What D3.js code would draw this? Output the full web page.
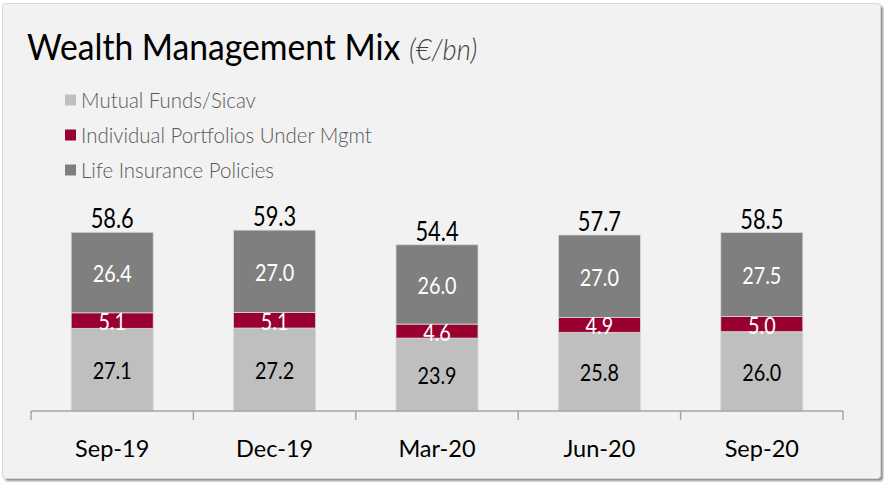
<!DOCTYPE html>
<html>
<head>
<meta charset="utf-8">
<script src="https://cdn.jsdelivr.net/npm/d3@7/dist/d3.min.js"></script>
<style>
  html, body { margin: 0; padding: 0; background: #ffffff; }
  svg { display: block; }
  text { font-family: Lato, "Open Sans", sans-serif; }
</style>
</head>
<body>
<svg id="chart" width="884" height="483"></svg>
<script>
// Quarter-end dates
const quarters = ["Sep-19", "Dec-19", "Mar-20", "Jun-20", "Sep-20"];

// Stacked components (€ bn), bottom to top
const mutualFunds = [27.1, 27.2, 23.9, 25.8, 26.0];
const individualPortfolios = [5.1, 5.1, 4.6, 4.9, 5.0];
const lifeInsurance = [26.4, 27.0, 26.0, 27.0, 27.5];

// Reported totals shown above each column
const totals = [58.6, 59.3, 54.4, 57.7, 58.5];

const seriesNames = ["Mutual Funds/Sicav", "Individual Portfolios Under Mgmt", "Life Insurance Policies"];
const seriesColors = ["#BFBFBF", "#990030", "#7F7F7F"];
const seriesLabelColors = ["#000000", "#ffffff", "#ffffff"];

const svg = d3.select("#chart");

// Panel with drop shadow
const defs = svg.append("defs");
const blur = defs.append("filter").attr("id", "shadow").attr("x", "-5%").attr("y", "-5%").attr("width", "110%").attr("height", "110%");
blur.append("feGaussianBlur").attr("stdDeviation", 1.2);

svg.append("rect")
  .attr("x", 5).attr("y", 6).attr("width", 878).attr("height", 475)
  .attr("rx", 3).attr("fill", "#8c8c8c").attr("filter", "url(#shadow)");
svg.append("rect")
  .attr("x", 2.5).attr("y", 3.5).attr("width", 878).attr("height", 475)
  .attr("rx", 3).attr("fill", "#F2F2F2").attr("stroke", "#d6d6d6").attr("stroke-width", 1);

// Text placed at (x, y) with a horizontal squeeze factor
function squeezedText(sel, x, y, k) {
  return sel.attr("transform", `translate(${x},${y}) scale(${k},1)`);
}

// Title
const title = svg.append("text").attr("fill", "#000").attr("font-size", 37);
squeezedText(title, 27, 60, 0.91);
title.append("tspan").text("Wealth Management Mix ");
title.append("tspan").attr("font-style", "italic").attr("font-weight", 300)
  .attr("font-size", 30).attr("fill", "#404040").text("(€/bn)");

// Legend
const legend = svg.append("g");
seriesNames.forEach((name, i) => {
  const cy = 100 + i * 35;
  legend.append("rect").attr("x", 65).attr("y", cy - 5.5).attr("width", 11).attr("height", 11)
    .attr("fill", seriesColors[i]);
  const t = legend.append("text").attr("font-size", 22).attr("font-weight", 300)
    .attr("fill", "#595959").text(name);
  squeezedText(t, 81, cy + 7.5, 0.93);
});

// Scales
const x = d3.scaleBand().domain(quarters).range([31, 843]).paddingInner(0.495).paddingOuter(0.2475);
const y = d3.scaleLinear().domain([0, 60]).range([411, 228]);

// Stack
const rows = quarters.map((q, i) => ({
  q,
  mf: mutualFunds[i],
  ip: individualPortfolios[i],
  li: lifeInsurance[i]
}));
const keys = ["mf", "ip", "li"];
const stacked = d3.stack().keys(keys)(rows);

const layers = svg.append("g").selectAll("g").data(stacked).join("g")
  .attr("fill", (d, i) => seriesColors[i]);

layers.selectAll("rect").data(d => d).join("rect")
  .attr("x", d => x(d.data.q))
  .attr("width", x.bandwidth())
  .attr("y", d => y(d[1]))
  .attr("height", d => y(d[0]) - y(d[1]))
  .attr("stroke", "#d8d8d8").attr("stroke-width", 0.8);

// Segment value labels
stacked.forEach((layer, li) => {
  layer.forEach(d => {
    const cx = x(d.data.q) + x.bandwidth() / 2;
    const cy = (y(d[0]) + y(d[1])) / 2;
    const t = svg.append("text").attr("text-anchor", "middle").attr("font-size", 23)
      .attr("fill", seriesLabelColors[li])
      .text(d3.format(".1f")(d.data[layer.key]));
    squeezedText(t, cx, cy + 9.5, 0.86);
  });
});

// Totals above columns
quarters.forEach((q, i) => {
  const top = y(mutualFunds[i] + individualPortfolios[i] + lifeInsurance[i]);
  const t = svg.append("text").attr("text-anchor", "middle").attr("font-size", 26)
    .attr("fill", "#000").text(d3.format(".1f")(totals[i]));
  squeezedText(t, x(q) + x.bandwidth() / 2, top - 4, 0.84);
});

// Category axis with ticks between columns
const axisG = svg.append("g");
const [r0, r1] = x.range();
axisG.append("line").attr("x1", r0).attr("x2", r1).attr("y1", y(0)).attr("y2", y(0))
  .attr("stroke", "#a6a6a6").attr("stroke-width", 1.5);
const edges = quarters.map(q => x(q) + x.bandwidth() / 2 - x.step() / 2);
edges.push(r1);
axisG.selectAll("line.tick").data(edges).join("line").attr("class", "tick")
  .attr("x1", d => d).attr("x2", d => d).attr("y1", y(0)).attr("y2", y(0) + 9)
  .attr("stroke", "#a6a6a6").attr("stroke-width", 1.5);

quarters.forEach(q => {
  const t = axisG.append("text").attr("text-anchor", "middle").attr("font-size", 24)
    .attr("fill", "#000").text(q);
  squeezedText(t, x(q) + x.bandwidth() / 2, 457, 0.98);
});
</script>
</body>
</html>
